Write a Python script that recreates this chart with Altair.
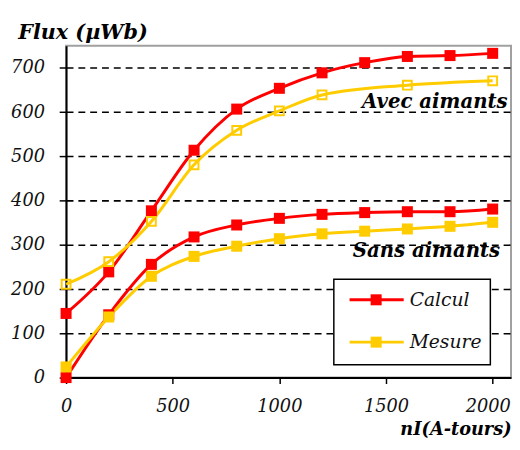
import altair as alt
import pandas as pd

# ---- data ----
nI = [0, 200, 400, 600, 800, 1000, 1200, 1400, 1600, 1800, 2000]
calcul_avec = [145, 239, 377, 514, 607, 654, 689, 712, 726, 728, 733]
mesure_avec_nI = [0, 200, 400, 600, 800, 1000, 1200, 1600, 2000]
mesure_avec = [211, 262, 353, 481, 559, 603, 639, 661, 671]
calcul_sans = [0, 142, 256, 318, 345, 360, 369, 373, 375, 375, 381]
mesure_sans = [24, 137, 229, 274, 297, 314, 325, 331, 336, 342, 351]

series_types = ["Calcul", "Mesure"]
series_colors = ["#FF0000", "#FFCC00"]
x_ticks = [0, 500, 1000, 1500, 2000]
y_ticks = [0, 100, 200, 300, 400, 500, 600, 700]
ann_labels = ["Avec aimants", "Sans aimants"]
ann_x = [2070, 2035]
ann_y = [623, 285]

rows = []
def add(xs, ys, typ, grp, hollow):
    for x, y in zip(xs, ys):
        rows.append(dict(nI=x, flux=y, type=typ, group=grp, hollow=hollow))

add(nI, calcul_avec, "Calcul", "avec", False)
add(mesure_avec_nI, mesure_avec, "Mesure", "avec", True)
add(nI, calcul_sans, "Calcul", "sans", False)
add(nI, mesure_sans, "Mesure", "sans", False)
df = pd.DataFrame(rows)
ann = pd.DataFrame(dict(label=ann_labels, x=ann_x, y=ann_y))

FONT = "DejaVu Serif"
W, H = 452, 337

xscale = alt.Scale(domain=[0, 2086], nice=False, zero=False)
yscale = alt.Scale(domain=[0, 750], nice=False)
color = alt.Color("type:N", scale=alt.Scale(domain=series_types, range=series_colors), legend=None)

xaxis = alt.Axis(values=x_ticks, format="d", title="nI(A-tours)", grid=False,
                 domainColor="black", domainWidth=2, tickColor="black", tickSize=6, tickWidth=1.5,
                 labelFont=FONT, labelFontStyle="italic", labelFontSize=18, labelColor="#111",
                 labelPadding=14, labelFlush=False, labelOverlap=False, labelBound=False,
                 labelAlign={"condition": {"test": "datum.value === 2000", "value": "right"}, "value": "center"},
                 labelOffset={"condition": {"test": "datum.value === 2000", "value": 18}, "value": 0},
                 titleFont=FONT, titleFontStyle="italic", titleFontWeight="bold", titleFontSize=18,
                 titleColor="black", titleX=W, titleY=53, titleAlign="right", titleBaseline="middle",
                 titleAnchor="end")
yaxis = alt.Axis(values=y_ticks, format="d", title="Flux (µWb)", grid=True, gridColor="black",
                 gridDash=[7, 5], gridWidth=1.6,
                 domainColor="black", domainWidth=2, tickColor="black", tickSize=7, tickWidth=1.5,
                 labelFont=FONT, labelFontStyle="italic", labelFontSize=18, labelColor="#111",
                 labelPadding=15,
                 titleFont=FONT, titleFontStyle="italic", titleFontWeight="bold", titleFontSize=21,
                 titleColor="black", titleAngle=0, titleX=-49, titleY=-13, titleAlign="left",
                 titleBaseline="middle")

base = alt.Chart(df).encode(
    x=alt.X("nI:Q", scale=xscale, axis=xaxis),
    y=alt.Y("flux:Q", scale=yscale, axis=yaxis),
    color=color,
    detail="group:N",
)

lines_c = base.transform_filter(alt.datum.type == "Calcul").mark_line(strokeWidth=3, interpolate="monotone")
lines_m = base.transform_filter(alt.datum.type == "Mesure").mark_line(strokeWidth=3, interpolate="monotone")
pts_c = base.transform_filter(alt.datum.type == "Calcul").mark_point(
    shape="square", filled=True, size=125, opacity=1, strokeWidth=0)
pts_m = base.transform_filter((alt.datum.type == "Mesure") & (alt.datum.hollow == False)).mark_point(
    shape="square", filled=True, size=125, opacity=1, strokeWidth=0)
pts_h = base.transform_filter(alt.datum.hollow == True).mark_point(
    shape="square", filled=False, size=80, opacity=1, strokeWidth=2)

texts = alt.Chart(ann).mark_text(
    font=FONT, fontStyle="italic", fontWeight="bold", fontSize=20, align="right",
    baseline="middle", color="black"
).encode(x=alt.X("x:Q", scale=xscale), y=alt.Y("y:Q", scale=yscale), text="label:N")

one = pd.DataFrame({"k": [0]})
legend_layers = [
    alt.Chart(one).mark_rect(fill="white", stroke="black", strokeWidth=1.5).encode(
        x=alt.value(272), x2=alt.value(431), y=alt.value(237), y2=alt.value(324))
]
legend_rows_y = [258, 301]
for lab, col, yy in zip(series_types, series_colors, legend_rows_y):
    legend_layers.append(alt.Chart(one).mark_rule(color=col, strokeWidth=3).encode(
        x=alt.value(288), x2=alt.value(343), y=alt.value(yy)))
    legend_layers.append(alt.Chart(one).mark_point(
        shape="square", filled=True, size=125, opacity=1, color=col, strokeWidth=0).encode(
        x=alt.value(315), y=alt.value(yy)))
    legend_layers.append(alt.Chart(one).mark_text(
        text=lab, font=FONT, fontStyle="italic", fontSize=19, align="left", baseline="middle",
        color="#111").encode(x=alt.value(349), y=alt.value(yy)))

chart = alt.layer(lines_c, lines_m, pts_c, pts_m, pts_h, texts, *legend_layers).properties(
    width=W, height=H,
    autosize=alt.AutoSizeParams(type="none"),
    padding={"left": 59, "top": 35, "right": 1, "bottom": 62},
    background="white",
).configure_view(stroke="#a0a0a0", strokeWidth=2)

chart.save("out.html", embed_options={"renderer": "svg", "actions": False})
